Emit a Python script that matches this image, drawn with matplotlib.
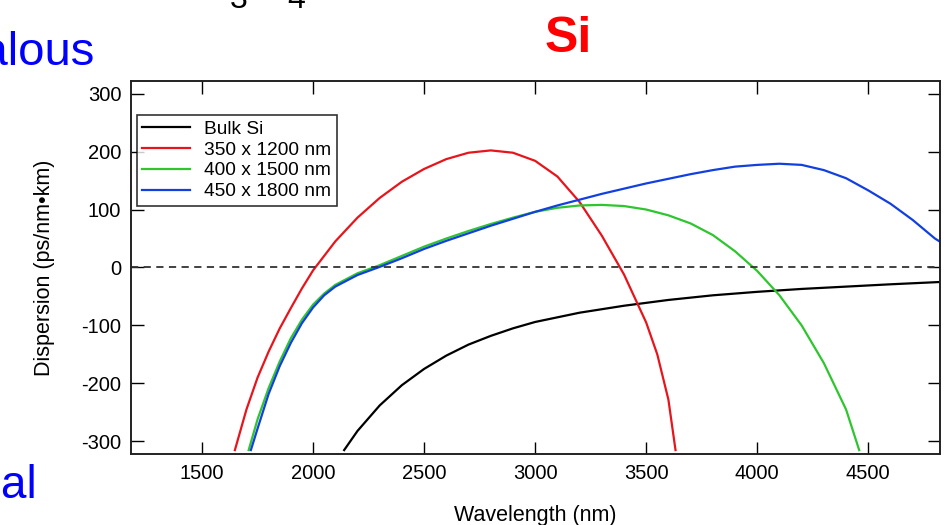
import matplotlib.pyplot as plt

plt.rcParams['font.family'] = ['Liberation Sans', 'DejaVu Sans']
plt.rcParams['axes.unicode_minus'] = False

# values (wavelength in nm, dispersion in ps/nm*km)
bulk_wl = [2140, 2200, 2300, 2400, 2500, 2600, 2700, 2800, 2900, 3000, 3200, 3400,
           3600, 3800, 4000, 4200, 4400, 4600, 4825]
bulk_d = [-315, -282, -238, -203, -175, -152, -133, -118, -105, -94, -78, -66,
          -56, -48, -42, -37, -33, -29, -25]

red_wl = [1648, 1700, 1750, 1800, 1850, 1900, 1950, 2000, 2100, 2200, 2300, 2400,
          2500, 2600, 2700, 2800, 2900, 3000, 3100, 3200, 3300, 3400, 3500, 3550,
          3600, 3632]
red_d = [-315, -245, -190, -145, -105, -70, -36, -5, 45, 86, 120, 148,
         170, 187, 198, 202, 198, 184, 157, 113, 55, -12, -95, -150,
         -228, -315]

green_wl = [1710, 1750, 1800, 1850, 1900, 1950, 2000, 2050, 2100, 2200, 2300, 2400,
            2500, 2600, 2700, 2800, 2900, 3000, 3100, 3200, 3300, 3400, 3500, 3600,
            3700, 3800, 3900, 4000, 4100, 4200, 4300, 4400, 4459]
green_d = [-315, -262, -208, -162, -122, -90, -64, -45, -30, -10, 4, 20,
           36, 50, 63, 75, 86, 96, 103, 107, 108, 106, 100, 90,
           76, 56, 28, -6, -48, -100, -165, -245, -315]

blue_wl = [1720, 1750, 1800, 1850, 1900, 1950, 2000, 2050, 2100, 2200, 2300, 2400,
           2500, 2600, 2700, 2800, 2900, 3000, 3100, 3200, 3300, 3400, 3500, 3600,
           3700, 3800, 3900, 4000, 4100, 4200, 4300, 4400, 4500, 4600, 4700, 4800,
           4825]
blue_d = [-315, -278, -218, -170, -130, -96, -69, -48, -33, -13, 1, 16,
          32, 46, 59, 72, 84, 96, 107, 117, 127, 136, 145, 153,
          161, 168, 174, 177, 179, 177, 168, 154, 133, 110, 82, 50,
          44]

labels = ['Bulk Si', '350 x 1200 nm', '400 x 1500 nm', '450 x 1800 nm']
colors = ['black', '#e8141c', '#2ec52e', '#1240e0']

fig = plt.figure(figsize=(9.49, 5.25), dpi=100)
ax = fig.add_axes([0.138, 0.135, 0.853, 0.711])

series = [(bulk_wl, bulk_d), (red_wl, red_d), (green_wl, green_d), (blue_wl, blue_d)]
for (wl, d), lab, c in zip(series, labels, colors):
    ax.plot(wl, d, color=c, lw=1.6, label=lab)

ax.axhline(0, color='#333333', lw=1.3, ls=(0, (4, 3)))

ax.set_xlim(1180, 4825)
ax.set_ylim(-322, 322)
ax.set_xticks([1500, 2000, 2500, 3000, 3500, 4000, 4500])
ax.set_yticks([-300, -200, -100, 0, 100, 200, 300])
ax.tick_params(direction='in', length=9, width=1, top=True, right=True,
               labelsize=14.5, pad=7)
for s in ax.spines.values():
    s.set_linewidth(1.4)
    s.set_color('#222222')

ax.set_xlabel('Wavelength (nm)', fontsize=15.5, labelpad=16)
ax.set_ylabel('Dispersion (ps/nm\u2022km)', fontsize=15.5, labelpad=19)

leg = ax.legend(loc='upper left', bbox_to_anchor=(0.0, 0.925), fontsize=13.8,
                frameon=True, fancybox=False, handlelength=2.5, borderpad=0.3,
                labelspacing=0.18, handletextpad=0.7, borderaxespad=0.3)
leg.get_frame().set_edgecolor('black')
leg.get_frame().set_linewidth(1.2)

# slide text around the chart (partly cut off in the screenshot)
fig.text(0.599, 0.925, 'Si', color='#ff0000', fontsize=36, fontweight='bold',
         ha='center', va='center')
fig.text(0.100, 0.876, 'Anomalous', color='#0000ff', fontsize=34,
         ha='right', va='baseline')
fig.text(0.039, 0.0514, 'Normal', color='#0000ff', fontsize=33,
         ha='right', va='baseline')
fig.text(0.252, 0.985, '3', color='black', fontsize=23, ha='center', va='baseline')
fig.text(0.312, 0.985, '4', color='black', fontsize=23, ha='center', va='baseline')

fig.savefig('out.png', dpi=100)
